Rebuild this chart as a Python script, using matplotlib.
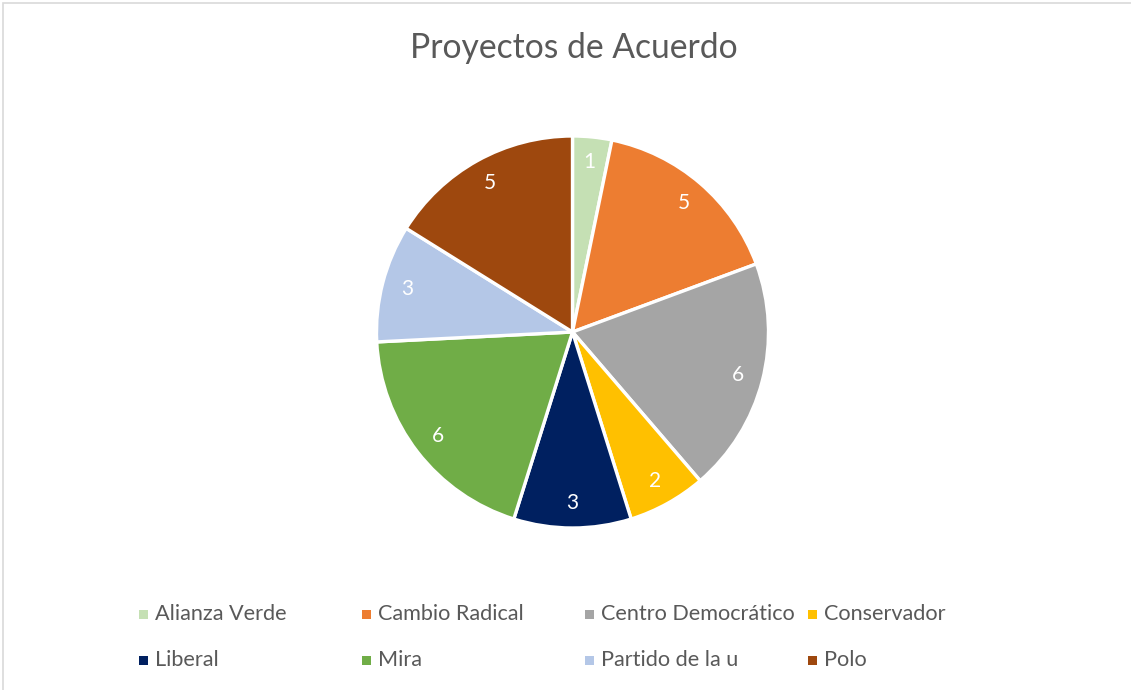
import matplotlib

matplotlib.use("Agg")
import matplotlib.pyplot as plt
from matplotlib.patches import Rectangle

# Data
partidos = ["Alianza Verde", "Cambio Radical", "Centro Democrático", "Conservador",
            "Liberal", "Mira", "Partido de la u", "Polo"]
proyectos = [1, 5, 6, 2, 3, 6, 3, 5]
colores = ["#C5E0B4", "#ED7D31", "#A5A5A5", "#FFC000",
           "#002060", "#70AD47", "#B4C7E7", "#9E480E"]

plt.rcParams["font.family"] = ["Lato", "DejaVu Sans"]

W, H = 1131, 690
fig = plt.figure(figsize=(W / 100, H / 100), dpi=100)

# light frame around the chart area
fig.patches.append(Rectangle((3 / W, -0.05), 1.2, (H - 3) / H + 0.05,
                             transform=fig.transFigure, fill=False,
                             edgecolor="#D9D9D9", linewidth=1.2))

# pie axes: center (572.5, 332) px, radius 196 px
cx, cy, r = 572.5, 332, 196
ax = fig.add_axes([(cx - r) / W, (H - cy - r) / H, 2 * r / W, 2 * r / H])
wedges, texts = ax.pie(
    proyectos,
    colors=colores,
    startangle=90,
    counterclock=False,
    labels=[str(v) for v in proyectos],
    labeldistance=0.87,
    wedgeprops=dict(edgecolor="white", linewidth=2.4),
    textprops=dict(color="white", fontsize=15),
)
for t in texts:
    t.set_horizontalalignment("center")
    t.set_verticalalignment("center")
ax.set_xlim(-1, 1)
ax.set_ylim(-1, 1)

fig.text(574 / W, 1 - 48 / H, "Proyectos de Acuerdo", ha="center", va="center",
         fontsize=24.2, color="#595959")

# legend, 4 columns x 2 rows
col_x = [139, 362, 585, 808]
row_y = [614, 660]
for i, (name, c) in enumerate(zip(partidos, colores)):
    x = col_x[i % 4]
    y = row_y[i // 4]
    fig.patches.append(Rectangle((x / W, 1 - (y + 4.5) / H), 9 / W, 9 / H,
                                 transform=fig.transFigure, facecolor=c,
                                 edgecolor="none"))
    fig.text((x + 16) / W, 1 - y / H, name, ha="left", va="center",
             fontsize=15.6, color="#595959")

fig.savefig("out.png", dpi=100)
